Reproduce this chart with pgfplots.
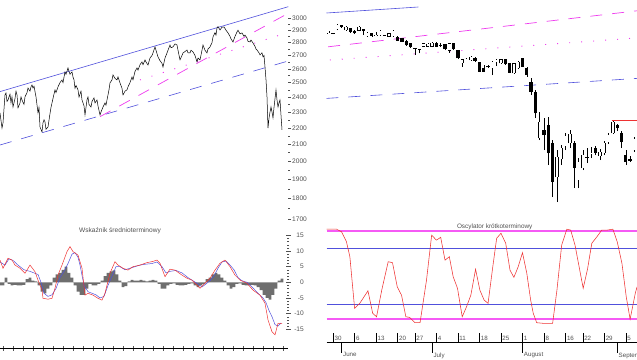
\documentclass[border=0pt]{standalone}
\usepackage{pgfplots}
\pgfplotsset{compat=1.18}
\usepackage{fontspec}
\setmainfont{Liberation Sans}
\definecolor{lblue}{RGB}{80,80,220}
\definecolor{lmag}{RGB}{238,60,238}
\definecolor{omag}{RGB}{245,90,245}
\definecolor{lred}{RGB}{238,50,50}
\definecolor{hgray}{RGB}{110,110,110}
\definecolor{tgray}{RGB}{80,80,80}
\newcommand{\cU}[5]{%
\addplot[black, line width=0.45pt, forget plot] coordinates {(#1,#2)(#1,#5)};
\addplot[black, line width=3.3pt, forget plot] coordinates {(#1,#3)(#1,#4)};
\addplot[white, line width=2.4pt, shorten <=0.45pt, shorten >=0.45pt, forget plot] coordinates {(#1,#3)(#1,#4)};}
\newcommand{\cD}[5]{%
\addplot[black, line width=0.45pt, forget plot] coordinates {(#1,#2)(#1,#5)};
\addplot[black, line width=3.3pt, forget plot] coordinates {(#1,#3)(#1,#4)};}
\begin{document}
\begin{tikzpicture}
\useasboundingbox (0pt,0pt) rectangle (637pt,-359pt);
% ---------------- left price chart
\begin{axis}[at={(0pt,0pt)}, anchor=north west, scale only axis, width=288pt, height=230pt,
  xmin=0, xmax=288, ymode=log, ymin=1646.9, ymax=3159.6,
  axis x line=none, axis y line*=right, y axis line style={draw=none},
  ytick={1700,1800,1900,2000,2100,2200,2300,2400,2500,2600,2700,2800,2900,3000},
  yticklabels={1700,1800,1900,2000,2100,2200,2300,2400,2500,2600,2700,2800,2900,3000},
  minor ytick={1750,1850,1950,2050,2150,2250,2350,2450,2550,2650,2750,2850,2950},
  tick align=outside, major tick length=3pt, minor tick length=1.5pt,
  tick style={tgray, line width=0.4pt},
  yticklabel style={font=\fontsize{6.6}{7}\selectfont, text=tgray, inner sep=1pt},
  /pgf/number format/assume math mode=true, clip=false]
\addplot[draw=lblue, line width=0.6pt] coordinates {(0,2437)(288.3,3100)};
\addplot[draw=lblue, line width=0.6pt, dash pattern=on 12pt off 10pt] coordinates {(0,2095)(288.3,2658)};
\addplot[draw=lmag, line width=0.7pt, dash pattern=on 12pt off 10pt] coordinates {(100,2270)(288.3,3043)};
\addplot[draw=lmag, line width=0.9pt, dash pattern=on 1pt off 11pt] coordinates {(140,2519)(280,2861)};
\addplot[black, line width=0.5pt] coordinates {
(0,2294)(2,2198)(3,2230)(5,2414)(6,2428)(7,2370)(8,2380)(10,2420)(11,2360)(12,2401)(13,2333)(15,2390)(16,2440)(17,2414)(18,2327)(20,2360)(21,2400)(22,2380)(24,2350)(25,2401)(27,2430)(28,2462)(30,2440)(31,2470)(32,2483)(33,2462)(34,2475)(36,2401)(38,2294)(39,2330)(40,2205)(42,2174)(43,2230)(44,2250)(45,2236)(46,2190)(48,2205)(50,2290)(51,2330)(52,2360)(54,2420)(55,2449)(56,2430)(58,2470)(60,2500)(62,2519)(63,2500)(65,2577)(66,2560)(68,2606)(69,2580)(70,2560)(72,2577)(73,2540)(74,2519)(75,2460)(76,2480)(78,2449)(79,2400)(80,2420)(81,2440)(82,2380)(84,2340)(85,2281)(86,2330)(87,2380)(88,2400)(89,2350)(91,2333)(92,2370)(94,2394)(95,2360)(97,2380)(98,2340)(100,2281)(101,2300)(103,2333)(105,2360)(106,2345)(107,2380)(109,2450)(110,2498)(112,2520)(113,2555)(115,2530)(117,2519)(118,2540)(120,2498)(122,2460)(123,2414)(125,2440)(127,2449)(128,2470)(130,2500)(132,2540)(133,2520)(135,2580)(137,2606)(138,2590)(140,2630)(142,2651)(143,2630)(145,2666)(146,2650)(148,2628)(150,2680)(152,2700)(153,2719)(155,2766)(156,2740)(158,2689)(160,2660)(162,2640)(163,2613)(165,2680)(167,2719)(168,2740)(170,2781)(171,2760)(173,2766)(175,2790)(177,2781)(178,2740)(180,2666)(182,2700)(183,2719)(185,2730)(187,2742)(188,2720)(190,2719)(191,2740)(193,2727)(195,2700)(197,2651)(198,2680)(200,2666)(202,2740)(203,2781)(205,2740)(207,2719)(208,2750)(210,2766)(212,2800)(213,2845)(215,2880)(216,2860)(217,2919)(218,2930)(220,2902)(222,2925)(224,2927)(226,2900)(228,2878)(230,2850)(231,2830)(233,2805)(235,2850)(237,2886)(238,2900)(240,2870)(242,2878)(244,2850)(245,2860)(247,2837)(248,2810)(250,2805)(251,2820)(253,2797)(255,2770)(256,2750)(257,2742)(259,2720)(260,2704)(262,2720)(263,2689)(264,2700)(265,2613)(266,2520)(267,2401)(268,2198)(269,2260)(270,2300)(271,2333)(272,2300)(273,2262)(274,2330)(276,2449)(277,2380)(278,2333)(279,2360)(280,2380)(281,2280)(282,2186)};
\end{axis}
% ---------------- right candlestick chart
\begin{axis}[at={(326.5pt,0pt)}, anchor=north west, scale only axis, width=310.5pt, height=215pt,
  xmin=-0.53, xmax=71.6, ymin=2025, ymax=3100, hide axis, clip=false]
\addplot[draw=lblue, line width=0.6pt] coordinates {(-0.53,3035)(20.8,3065)};
\addplot[draw=lmag, line width=0.7pt, dash pattern=on 12pt off 10pt] coordinates {(-0.16,2866)(71.6,3046)};
\addplot[draw=lmag, line width=0.9pt, dash pattern=on 1pt off 11pt] coordinates {(0.23,2800)(70,2908)};
\addplot[draw=lblue, line width=0.6pt, dash pattern=on 12pt off 10pt] coordinates {(-0.53,2608)(71.6,2708)};
\addplot[draw=lred, line width=0.9pt] coordinates {(65.7,2496)(71.6,2496)};
\cU{0}{2930}{2932}{2937}{2946}
\cD{1}{2930}{2931}{2935}{2937}
\cU{2}{2950}{2953}{2975}{2980}
\cD{3}{2962}{2966}{2975}{2977}
\cU{4}{2947}{2950}{2966}{2972}
\cD{5}{2935}{2941}{2958}{2962}
\cD{6}{2930}{2933}{2946}{2952}
\cU{7}{2945}{2946}{2966}{2972}
\cD{8}{2925}{2947}{2953}{2955}
\cU{9}{2917}{2920}{2936}{2940}
\cD{10}{2917}{2920}{2933}{2935}
\cU{11}{2918}{2920}{2925}{2941}
\cU{12}{2922}{2925}{2946}{2950}
\cD{13}{2921}{2922}{2926}{2927}
\cU{14}{2915}{2916}{2933}{2935}
\cU{15}{2917}{2920}{2946}{2950}
\cD{16}{2895}{2896}{2916}{2920}
\cD{17}{2890}{2891}{2908}{2912}
\cD{18}{2872}{2875}{2896}{2900}
\cD{19}{2860}{2863}{2883}{2887}
\cD{20}{2825}{2855}{2858}{2860}
\cD{21}{2833}{2850}{2853}{2855}
\cU{22}{2865}{2866}{2883}{2885}
\cU{23}{2865}{2867}{2882}{2885}
\cU{24}{2865}{2866}{2886}{2890}
\cD{25}{2865}{2866}{2886}{2890}
\cD{26}{2867}{2871}{2875}{2883}
\cD{27}{2850}{2853}{2880}{2882}
\cU{28}{2836}{2846}{2883}{2885}
\cD{29}{2850}{2853}{2883}{2885}
\cD{30}{2805}{2808}{2850}{2852}
\cU{31}{2766}{2783}{2803}{2805}
\cU{32}{2805}{2808}{2825}{2827}
\cU{33}{2797}{2800}{2816}{2820}
\cD{34}{2790}{2795}{2812}{2815}
\cD{35}{2740}{2741}{2790}{2792}
\cD{36}{2740}{2741}{2760}{2775}
\cD{37}{2760}{2763}{2768}{2775}
\cU{38}{2725}{2758}{2791}{2795}
\cU{39}{2770}{2790}{2800}{2803}
\cU{40}{2780}{2783}{2803}{2805}
\cD{41}{2777}{2780}{2803}{2805}
\cD{42}{2735}{2736}{2783}{2785}
\cU{43}{2732}{2733}{2783}{2785}
\cU{44}{2755}{2758}{2791}{2795}
\cD{45}{2765}{2766}{2808}{2812}
\cD{46}{2716}{2725}{2758}{2765}
\cD{47}{2625}{2641}{2691}{2708}
\cD{48}{2510}{2533}{2641}{2650}
\cU{49}{2400}{2408}{2491}{2540}
\cD{50}{2350}{2425}{2450}{2510}
\cD{51}{2275}{2335}{2475}{2515}
\cD{52}{2115}{2190}{2385}{2400}
\cU{53}{2090}{2215}{2315}{2350}
\cU{54}{2275}{2305}{2360}{2375}
\cU{55}{2350}{2370}{2420}{2435}
\cU{56}{2360}{2385}{2430}{2450}
\cD{57}{2160}{2260}{2385}{2395}
\cU{58}{2160}{2200}{2290}{2310}
\cU{59}{2250}{2260}{2325}{2350}
\cD{60}{2285}{2312}{2317}{2360}
\cU{61}{2310}{2332}{2337}{2365}
\cD{62}{2325}{2335}{2360}{2370}
\cU{63}{2300}{2320}{2340}{2355}
\cU{64}{2325}{2335}{2385}{2395}
\cU{65}{2380}{2390}{2425}{2435}
\cU{66}{2430}{2435}{2490}{2495}
\cD{67}{2445}{2460}{2475}{2480}
\cD{68}{2360}{2390}{2435}{2445}
\cD{69}{2275}{2290}{2325}{2350}
\cD{70}{2290}{2297}{2303}{2320}
\cU{71}{2340}{2350}{2405}{2415}
\end{axis}
% ---------------- left MACD panel
\begin{axis}[at={(0pt,-222pt)}, anchor=north west, scale only axis, width=288pt, height=126pt,
  xmin=0, xmax=288, ymin=-20.99, ymax=19.27,
  axis x line*=bottom, axis y line*=right, y axis line style={draw=none},
  x axis line style={-, black, line width=0.5pt},
  xtick={3,13,23,33,43,53,63,73,83,93,103,113,123,133,143,153,163,173,183,193,203,213,223,233,243,253,263,273,283},
  xticklabels={}, ytick={-15,-10,-5,0,5,10,15},
  minor y tick num=4, tick align=center, major tick length=5pt, minor tick length=2pt,
  tick style={tgray, line width=0.4pt},
  yticklabel style={font=\fontsize{6.6}{7}\selectfont, text=tgray, anchor=east, inner sep=0.5pt, xshift=14pt},
  /pgf/number format/assume math mode=true, clip=false]
\addplot[ybar, bar width=2.6pt, fill=hgray, draw=none] coordinates {
(0,-1)(3,-1)(6,1.5)(9,-0.5)(12,-1)(15,-0.8)(18,-1)(21,-1)(24,-0.8)(27,1)(30,1.5)(33,0.5)(36,0.3)(39,-1)(42,-3)(45,-3.5)(48,-2)(51,-1)(54,1.5)(57,2.5)(60,3)(63,4)(66,5)(69,3)(72,1.5)(75,-1)(78,-3)(81,-4)(84,-4)(87,-2)(90,-0.5)(93,-1)(96,-1)(99,-0.5)(102,0.5)(105,2)(108,3)(111,3.5)(114,3.8)(117,2.5)(120,0.5)(123,-1.5)(126,-1.2)(129,0.3)(132,0.8)(135,0.5)(138,0.5)(141,0.8)(144,0.5)(147,0.3)(150,0.5)(153,0.8)(156,0.5)(159,-0.5)(162,-2)(165,-2)(168,-1)(171,-0.5)(174,-0.3)(177,-0.8)(180,-1)(183,-1)(186,-0.8)(189,-0.5)(192,-0.3)(195,-1)(198,-1.5)(201,-1)(204,-0.5)(207,1)(210,1.5)(213,2.5)(216,3)(219,2.5)(222,1.5)(225,0.5)(228,-1)(231,-2)(234,-1.5)(237,-0.5)(240,-0.3)(243,-0.8)(246,-1)(249,-1)(252,-0.8)(255,-1)(258,-1.5)(261,-2.5)(264,-4)(267,-5)(270,-5.5)(273,-4)(276,-2)(279,0.5)(282,1.2)};
\addplot[draw=lblue, line width=0.5pt] coordinates {
(0,6.5)(5,5.5)(9,7.5)(13,7)(18,5.5)(24,4)(30,3.5)(34,3)(38,2.5)(41,0)(44,-3.5)(48,-4.5)(52,-4)(56,-2)(60,1.5)(64,3.5)(68,6)(72,9)(75,9.5)(78,8)(80,5.5)(84,-1)(88,-3)(92,-3.5)(96,-4)(100,-5)(104,-4.5)(108,-1)(112,2)(116,5)(120,5)(125,4)(130,4.5)(135,5)(140,5.5)(146,5.8)(152,6)(157,6.5)(162,5)(166,3)(170,3.5)(176,3.8)(182,3)(188,1.5)(193,0.5)(198,-0.5)(202,-1.5)(206,-0.5)(210,0.5)(214,2)(218,4.5)(222,6.5)(226,6.8)(230,5.5)(234,4)(238,1.5)(242,0.5)(247,0)(252,-1.5)(258,-3.5)(263,-5)(266,-6.5)(269,-9)(272,-11)(275,-13.5)(278,-14)(281,-13)};
\addplot[draw=lred, line width=0.5pt] coordinates {
(0,7.1)(3,4.5)(8,7.7)(12,7.1)(15,5.5)(20,4.5)(25,2.9)(30,5.5)(35,3.4)(38,0.7)(42,-2.5)(43,-5.1)(48,-5.4)(52,-5.1)(55,-1.9)(58,2.3)(62,5.5)(67,9.8)(70,11.4)(73,9.8)(78,8.7)(82,4.5)(85,-4.1)(88,-3.5)(93,-4.1)(98,-5.1)(102,-5.7)(105,-3.5)(110,2.9)(115,6.6)(118,5.5)(123,4.5)(128,3.9)(133,5.0)(140,5.5)(147,6.3)(152,6.6)(157,7.1)(160,6.1)(165,1.8)(170,4.2)(175,3.9)(182,2.3)(187,1.3)(192,0.7)(195,-0.3)(200,-1.9)(205,-0.3)(210,1.3)(215,3.9)(220,6.1)(225,7.1)(230,5.0)(235,2.3)(240,0.7)(247,-0.3)(253,-2.5)(260,-4.1)(265,-6.7)(268,-12.0)(272,-15.8)(275,-16.8)(278,-13.1)(282,-13.1)};
\end{axis}
% ---------------- right oscillator panel
\begin{axis}[at={(326.5pt,-222pt)}, anchor=north west, scale only axis, width=310.5pt, height=120.7pt,
  xmin=-0.53, xmax=71.6, ymin=-19.3, ymax=19.3,
  axis x line*=bottom, axis y line=none,
  x axis line style={-, black, line width=0.5pt},
  xtick={1,6,11,16,20,25,30,35,40,45,50,55,59,64,69},
  xticklabels={30,6,13,20,27,4,11,18,25,1,8,16,22,29,5},
  tick align=inside, major tick length=9.5pt, tick style={black, line width=0.4pt},
  xticklabel style={font=\fontsize{6.2}{7}\selectfont, text=tgray, anchor=south west, inner sep=1pt, yshift=1.2pt, xshift=0.3pt},
  extra x ticks={3,24,45,67}, extra x tick labels={June,July,August,September},
  extra x tick style={tick align=outside, major tick length=10pt,
    xticklabel style={anchor=north west, yshift=0pt, inner sep=1pt}},
  /pgf/number format/assume math mode=true, clip=false]
\addplot[draw=omag, line width=1.9pt] coordinates {(-0.53,16.3)(71.6,16.3)};
\addplot[draw=lblue, line width=0.8pt] coordinates {(-0.53,10.9)(71.6,10.9)};
\addplot[draw=lblue, line width=0.8pt] coordinates {(-0.53,-6.9)(71.6,-6.9)};
\addplot[draw=omag, line width=1.9pt] coordinates {(-0.53,-11.8)(71.6,-11.8)};
\addplot[draw=lred, line width=0.55pt] coordinates {
(-0.53,17.0)(1.8,17.0)(2.95,16.2)(4.1,13.0)(4.9,8.2)(6.0,-8.3)(7.2,-6.7)(9.1,-2.7)(10.2,-9.9)(11.1,-11.0)(12.3,-2.5)(13.8,6.6)(14.8,6.3)(15.9,-1.4)(16.9,-4.1)(17.9,-11.0)(18.8,-11.2)(20.0,-12.9)(21.2,-12.9)(22.7,0.7)(23.9,15.1)(25.0,13.5)(26.0,14.4)(27.0,7.1)(28.0,8.2)(28.9,1.8)(29.9,-1.9)(31.0,-11.0)(32.0,-7.8)(33.0,-4.1)(34.1,4.2)(35.1,-2.5)(36.1,-5.7)(37.0,-6.7)(38.1,5.0)(39.0,14.1)(40.0,15.7)(41.1,12.5)(42.1,3.9)(43.0,1.6)(44.0,5.0)(45.0,9.5)(46.0,2.9)(46.9,-5.7)(47.5,-9.9)(48.3,-12.9)(49.8,-13.1)(52.0,-13.1)(53.0,-2.5)(54.1,11.9)(55.3,17.0)(56.2,16.7)(57.2,11.9)(58.0,6.1)(59.1,-1.9)(60.1,4.2)(61.1,12.5)(62.3,14.6)(63.4,16.7)(64.6,16.7)(66.0,17.0)(67.0,13.0)(68.1,6.1)(69.1,-4.6)(70.0,-11.8)(71.2,-3.5)(71.6,-1.5)};
\end{axis}
\node[font=\fontsize{6.6}{7}\selectfont, text=tgray] at (120pt,-230.7pt) {Wskaźnik średnioterminowy};
\node[font=\fontsize{6.4}{7}\selectfont, text=tgray] at (494.7pt,-226.7pt) {Oscylator krótkoterminowy};
\end{tikzpicture}
\end{document}
